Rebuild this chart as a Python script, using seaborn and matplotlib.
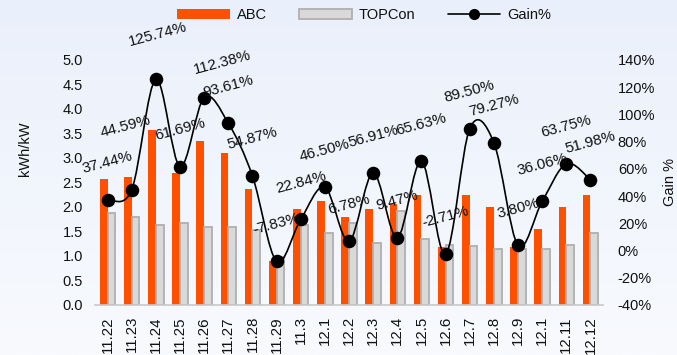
import numpy as np
import pandas as pd
import matplotlib
matplotlib.use("Agg")
import matplotlib.pyplot as plt
from matplotlib.path import Path
from matplotlib.patches import PathPatch, Patch
from matplotlib.lines import Line2D
import matplotlib.colors as mcolors
import seaborn as sns

# --- data -------------------------------------------------------------
dates = ["11.22", "11.23", "11.24", "11.25", "11.26", "11.27", "11.28", "11.29",
         "11.3", "12.1", "12.2", "12.3", "12.4", "12.5", "12.6", "12.7", "12.8",
         "12.9", "12.1", "12.11", "12.12"]
abc = [2.57, 2.61, 3.58, 2.69, 3.35, 3.10, 2.37, 0.90, 1.96, 2.12, 1.80, 1.96,
       2.07, 2.24, 1.19, 2.24, 2.00, 1.19, 1.55, 2.00, 2.24]
topcon = [1.87, 1.79, 1.63, 1.67, 1.59, 1.59, 1.54, 0.98, 1.63, 1.46, 1.67, 1.26,
          1.91, 1.34, 1.22, 1.20, 1.14, 1.14, 1.14, 1.22, 1.46]
gain = [37.44, 44.59, 125.74, 61.69, 112.38, 93.61, 54.87, -7.83, 22.84, 46.50,
        6.78, 56.91, 9.47, 65.63, -2.71, 89.50, 79.27, 3.80, 36.06, 63.75, 51.98]
series_names = ["ABC", "TOPCon"]

ORANGE = "#FF5000"
GREY = "#D9D9D9"
GREY_EDGE = "#AFAFAF"

sns.set_theme(style="white")
plt.rcParams["font.family"] = ["Liberation Sans", "DejaVu Sans"]

idx = list(range(len(dates)))
df = pd.DataFrame({
    "pos": idx * 2,
    "value": abc + topcon,
    "series": [series_names[0]] * len(abc) + [series_names[1]] * len(topcon),
})

fig = plt.figure(figsize=(6.77, 3.55), dpi=100)

# soft blue backdrop
bg = fig.add_axes([0, 0, 1, 1], zorder=-10)
grad = np.linspace(0, 1, 256).reshape(-1, 1)
cmap = mcolors.LinearSegmentedColormap.from_list("bg", ["#EAF0FB", "#F8FAFE"])
bg.imshow(grad, aspect="auto", cmap=cmap, extent=[0, 1, 0, 1], origin="upper")
bg.set_axis_off()

ax = fig.add_axes([0.141, 0.141, 0.749, 0.690])
ax.set_facecolor("none")

sns.barplot(data=df, x="pos", y="value", hue="series", hue_order=series_names,
            palette=[ORANGE, GREY], width=0.64, saturation=1, ax=ax,
            legend=False, errorbar=None)
for bar in ax.containers[0]:
    bar.set_edgecolor("none")
for bar in ax.containers[1]:
    bar.set_edgecolor(GREY_EDGE)
    bar.set_linewidth(1.3)

ax.set_xlim(-0.5, len(dates) - 0.5)
ax.set_ylim(0, 5)
ax.set_yticks(np.arange(0, 5.01, 0.5))
ax.set_yticklabels([f"{t:.1f}" for t in np.arange(0, 5.01, 0.5)])
ax.set_xticks(idx)
ax.set_xticklabels(dates, rotation=90)
ax.set_xticks(np.arange(-0.5, len(dates), 1.0), minor=True)
ax.tick_params(axis="x", which="major", length=0, pad=8, labelsize=10.8,
               colors="#111111")
ax.tick_params(axis="x", which="minor", length=5, width=1, color="#C8C8C8",
               direction="out")
ax.tick_params(axis="y", length=0, pad=9, labelsize=10.5, colors="#111111")
ax.set_xlabel("")
ax.set_ylabel("kWh/kW", fontsize=10.5, color="#111111")
ax.yaxis.set_label_coords(-0.125, 0.637)
for s in ["left", "right", "top"]:
    ax.spines[s].set_visible(False)
ax.spines["bottom"].set_color("#C8C8C8")
ax.spines["bottom"].set_linewidth(1.2)

# gain curve on the secondary axis
ax2 = ax.twinx()
ax2.set_ylim(-40, 140)
ax2.set_yticks(np.arange(-40, 141, 20))
ax2.set_yticklabels([f"{t}%" for t in range(-40, 141, 20)])
ax2.tick_params(axis="y", length=0, pad=11, labelsize=10.5, colors="#111111")
ax2.set_ylabel("Gain %", fontsize=10.5, color="#111111", rotation=90)
ax2.yaxis.set_label_coords(1.119, 0.5)
for s in ["left", "right", "top", "bottom"]:
    ax2.spines[s].set_visible(False)

# smoothed line through the gain points (Catmull-Rom as cubic Bezier)
pts = np.column_stack([idx, gain]).astype(float)
ext = np.vstack([pts[0], pts, pts[-1]])
verts = [tuple(pts[0])]
codes = [Path.MOVETO]
for k in range(len(pts) - 1):
    p0, p1, p2, p3 = ext[k], ext[k + 1], ext[k + 2], ext[k + 3]
    c1 = p1 + (p2 - p0) / 6.0
    c2 = p2 - (p3 - p1) / 6.0
    verts += [tuple(c1), tuple(c2), tuple(p2)]
    codes += [Path.CURVE4] * 3
ax2.add_patch(PathPatch(Path(verts, codes), facecolor="none", edgecolor="black",
                        lw=1.2, zorder=3))
sns.scatterplot(x=idx, y=gain, color="black", s=95, edgecolor="black",
                linewidth=0, zorder=4, ax=ax2, legend=False)

label_offsets = {1: (-6, 63), 2: (2, 45), 4: (18, 35)}
for i, v in enumerate(gain):
    dx, dy = label_offsets.get(i, (0, 37))
    ax2.annotate(f"{v:.2f}%", (i, v), xytext=(dx, dy), textcoords="offset pixels",
                 ha="center", va="center", rotation=15, fontsize=11,
                 color="#111111", zorder=5)

handles = [
    Patch(facecolor=ORANGE, edgecolor="none", label="ABC"),
    Patch(facecolor=GREY, edgecolor=GREY_EDGE, linewidth=1.3, label="TOPCon"),
    Line2D([0], [0], color="black", lw=1.2, marker="o", markersize=7,
           label="Gain%"),
]
fig.legend(handles=handles, loc="center", bbox_to_anchor=(0.538, 0.958), ncol=3,
           frameon=False, fontsize=10.5, handlelength=3.6, handletextpad=0.5,
           columnspacing=2.2, labelcolor="#111111")

fig.savefig("out.png", dpi=100)
